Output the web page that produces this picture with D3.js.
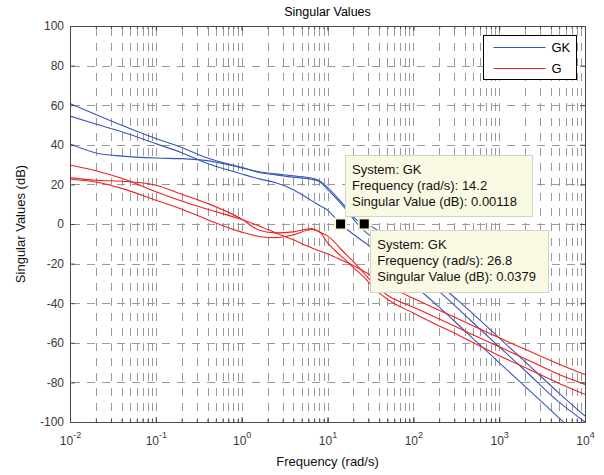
<!DOCTYPE html>
<html>
<head>
<meta charset="utf-8">
<script src="https://cdn.jsdelivr.net/npm/d3@7"></script>
<style>
    body { margin: 0; background: #fff; }
    svg text { font-family: "Liberation Sans", Arial, sans-serif; }
</style>
</head>
<body>
<div id="chart-area"></div>
<script>

let margin = {top: 26, right: 19, bottom: 53, left: 70};

let width = 604 - margin.left - margin.right;
let height = 475 - margin.top - margin.bottom;

// frequencies (rad/s) the curves were read at
let freq = [0.01, 0.02, 0.04, 0.1, 0.2, 0.4, 1, 1.6, 2.5, 4, 6.5, 8, 10, 12, 14.2, 17, 20,
    26.8, 35, 50, 100, 200, 300, 500, 1000, 2000, 5000, 10000];

// singular values of GK (dB)
let gk1 = [60.8, 55.3, 49.9, 43.2, 38.6, 33.3, 28.6, 26, 24.8, 23.6, 22.6, 21.5, 17.5, 14, 10.5, 6.5, 2.5,
    -3.5, -7.5, -13, -23.5, -34, -41, -50, -62, -74, -90, -100];
let gk2 = [54.5, 50.5, 46.6, 40.6, 36, 30.6, 25.3, 22.8, 20.8, 17.3, 11.8, 9.5, 7, 3.5, 0, -2.8, -5.2,
    -9.2, -12.8, -18.5, -30.5, -42, -49, -58, -70, -82, -98, -110];
let gk3 = [40.4, 35.9, 34.3, 33.3, 33, 32, 28.3, 26.4, 25.3, 24.3, 23.2, 22, 18.5, 15, 11.5, 7.5, 3.5,
    0, -2, -7.6, -19, -30.3, -37, -45.5, -57.5, -69.5, -85.5, -97];

// singular values of G (dB)
let g1 = [29.8, 26.9, 23.1, 16.3, 11.6, 7.4, 2.3, -1, -4.5, -8, -12, -13.5, -15, -16.5, -18, -19.5, -21,
    -24, -27, -31, -37.5, -43.5, -47, -51.5, -57.5, -63.3, -70.8, -76];
let g2 = [23.4, 22.1, 21.6, 19.6, 15, 10.4, 2.5, -3.2, -4.5, -4, -2.3, -4, -6, -9, -12.5, -16, -19,
    -25, -30.5, -36, -42, -48, -51.5, -56, -62, -68, -76, -81];
let g3 = [22.6, 21.2, 18, 12, 7.5, 2.2, -4.1, -6.3, -6.9, -5.5, -2.8, -3.8, -9.5, -13, -16, -19, -22,
    -27, -32.5, -38, -45, -51.5, -55, -60, -66.5, -72.5, -80.5, -86];

let systems = ["GK", "G"];
let colors = {GK: "#3658b8", G: "#f02020"};

// data tips
let tipFreq = [14.2, 26.8];
let tipValue = [0.00118, 0.0379];
let tipText = ["0.00118", "0.0379"];

let yTicks = [-100, -80, -60, -40, -20, 0, 20, 40, 60, 80, 100];
let decades = [1e-2, 1e-1, 1e0, 1e1, 1e2, 1e3, 1e4];

let series = [
    {sys: "GK", values: gk1}, {sys: "GK", values: gk2}, {sys: "GK", values: gk3},
    {sys: "G", values: g1}, {sys: "G", values: g2}, {sys: "G", values: g3}
];

let svg = d3.select("#chart-area").append("svg")
    .attr("width", width + margin.left + margin.right)
    .attr("height", height + margin.top + margin.bottom)
    .append("g")
    .attr("transform", "translate(" + margin.left + "," + margin.top + ")");

let x = d3.scaleLog()
    .domain([1e-2, 1e4])
    .range([0, width]);

let y = d3.scaleLinear()
    .domain([-100, 100])
    .range([height, 0]);

let px = v => Math.round(x(v)) + 0.5;
let py = v => Math.round(y(v)) + 0.5;

// grid (dotted in matlab, comes out as short dashes)
let minor = x.ticks().filter(d => d > 1e-2 && d < 1e4);

svg.append("g").selectAll("line")
    .data(minor)
    .enter().append("line")
    .attr("x1", d => px(d)).attr("x2", d => px(d))
    .attr("y1", 0).attr("y2", height)
    .attr("stroke", "#9a9a9a")
    .attr("stroke-dasharray", "8,7")
    .attr("stroke-dashoffset", -2);

svg.append("g").selectAll("line")
    .data(yTicks.filter(d => d > -100 && d < 100))
    .enter().append("line")
    .attr("x1", 0).attr("x2", width)
    .attr("y1", d => py(d)).attr("y2", d => py(d))
    .attr("stroke", "#9a9a9a")
    .attr("stroke-dasharray", "8,7")
    .attr("stroke-dashoffset", -2);

// curves
svg.append("clipPath").attr("id", "plot-clip")
    .append("rect").attr("width", width).attr("height", height);

let line = d3.line()
    .x(d => x(d[0]))
    .y(d => y(d[1]))
    .curve(d3.curveMonotoneX);

svg.append("g")
    .attr("clip-path", "url(#plot-clip)")
    .selectAll("path")
    .data(series)
    .enter().append("path")
    .attr("d", d => line(d3.zip(freq, d.values)))
    .attr("fill", "none")
    .attr("stroke", d => colors[d.sys])
    .attr("stroke-width", 1.1);

// axes, ticks pointing inwards on all four sides
let axisColor = "#4a4a4a";

function styleAxis(g) {
    g.select(".domain").attr("stroke", axisColor);
    g.selectAll(".tick line").attr("stroke", axisColor);
    g.selectAll(".tick text").attr("fill", "#3a3a3a").style("font-size", "12px");
}

let xAxis = d3.axisBottom(x).tickValues(decades).tickSize(-5).tickSizeOuter(0).tickPadding(14);
let xAxisGroup = svg.append("g")
    .attr("transform", "translate(0," + height + ")")
    .call(xAxis)
    .call(styleAxis);

xAxisGroup.selectAll(".tick text")
    .attr("font-family", null)
    .text(null)
    .call(t => {
        t.append("tspan").text("10");
        t.append("tspan").attr("dy", -7).style("font-size", "9px")
            .text(d => Math.round(Math.log10(d)));
    });

svg.append("g")
    .attr("transform", "translate(0," + height + ")")
    .call(d3.axisBottom(x).tickValues(minor).tickSize(-3).tickSizeOuter(0).tickFormat(""))
    .call(styleAxis);

svg.append("g")
    .call(d3.axisTop(x).tickValues(decades).tickSize(-5).tickSizeOuter(0).tickFormat(""))
    .call(styleAxis);

svg.append("g")
    .call(d3.axisTop(x).tickValues(minor).tickSize(-3).tickSizeOuter(0).tickFormat(""))
    .call(styleAxis);

// plain hyphen for negatives, like the original
svg.append("g")
    .call(d3.axisLeft(y).tickValues(yTicks).tickSize(-5).tickSizeOuter(0).tickPadding(6)
        .tickFormat(d => String(d)))
    .call(styleAxis)
    .selectAll(".tick text").attr("font-family", null);

svg.append("g")
    .attr("transform", "translate(" + width + ",0)")
    .call(d3.axisRight(y).tickValues(yTicks).tickSize(-5).tickSizeOuter(0).tickFormat(""))
    .call(styleAxis);

// titles
svg.append("text")
    .attr("x", width / 2)
    .attr("y", -10)
    .attr("text-anchor", "middle")
    .style("font-size", "12.5px")
    .text("Singular Values");

svg.append("text")
    .attr("x", width / 2)
    .attr("y", height + 44)
    .attr("text-anchor", "middle")
    .style("font-size", "13px")
    .attr("fill", "#111")
    .text("Frequency (rad/s)");

svg.append("text")
    .attr("transform", "translate(" + (-45.5) + "," + (height / 2) + ") rotate(-90)")
    .attr("text-anchor", "middle")
    .style("font-size", "13px")
    .attr("fill", "#111")
    .text("Singular Values (dB)");

// legend
let legend = svg.append("g")
    .attr("transform", "translate(" + (width - 101.5) + ",9.5)");

legend.append("rect")
    .attr("width", 93).attr("height", 44)
    .attr("fill", "#fff")
    .attr("stroke", "#000");

let legendItem = legend.selectAll("g.legend")
    .data(systems)
    .enter().append("g")
    .attr("class", "legend")
    .attr("transform", (d, i) => "translate(0," + (12 + i * 21) + ")");

legendItem.append("line")
    .attr("x1", 10).attr("x2", 62)
    .attr("stroke", d => colors[d])
    .attr("stroke-width", 1);

legendItem.append("text")
    .attr("x", 68)
    .attr("dy", "0.36em")
    .style("font-size", "13px")
    .text(d => d);

// data tips: markers and text boxes
let tips = tipFreq.map((f, i) => ({f: f, v: tipValue[i], label: tipText[i]}));

let tipBox = [
    {dx: 4.5, dy: -69, w: 187, h: 61},
    {dx: 6, dy: 6, w: 178, h: 62}
];

let tip = svg.selectAll("g.tip")
    .data(tips)
    .enter().append("g")
    .attr("class", "tip");

tip.append("rect")
    .attr("x", (d, i) => Math.round(x(d.f) + tipBox[i].dx) + 0.5)
    .attr("y", (d, i) => Math.round(y(d.v) + tipBox[i].dy) + 0.5)
    .attr("width", (d, i) => tipBox[i].w)
    .attr("height", (d, i) => tipBox[i].h)
    .attr("fill", "#fafae4")
    .attr("stroke", "#d4d4c4");

tip.each(function(d, i) {
    let lines = ["System: GK", "Frequency (rad/s): " + d.f, "Singular Value (dB): " + d.label];
    let bx = x(d.f) + tipBox[i].dx + 7;
    let by = y(d.v) + tipBox[i].dy;
    d3.select(this).selectAll("text")
        .data(lines)
        .enter().append("text")
        .attr("x", bx)
        .attr("y", (t, j) => by + 19 + j * 16)
        .style("font-size", "13px")
        .attr("fill", "#111")
        .text(t => t);
});

tip.append("rect")
    .attr("x", d => x(d.f) - 5.5)
    .attr("y", d => y(d.v) - 5.5)
    .attr("width", 11)
    .attr("height", 11)
    .attr("fill", "#000")
    .attr("stroke", "#f4f4d6")
    .attr("stroke-width", 2);

</script>
</body>
</html>
